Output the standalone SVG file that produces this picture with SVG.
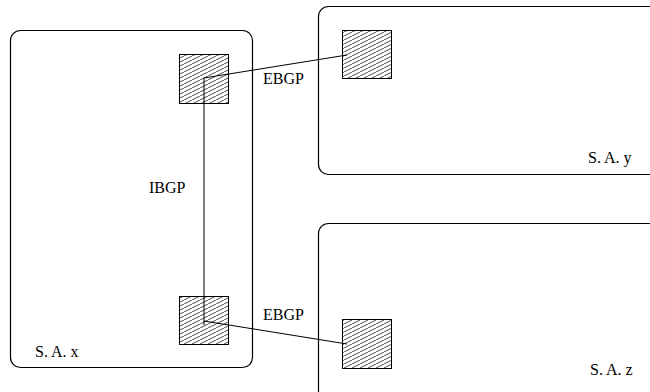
<svg xmlns="http://www.w3.org/2000/svg" width="650" height="392" viewBox="0 0 650 392">
  <style>
    .as { fill: none; stroke: #000; stroke-width: 1.2; }
    .router { fill: url(#hatch); stroke: #000; stroke-width: 1; }
    .link { fill: none; stroke: #000; stroke-width: 1; }
    .lbl { font-family: "Liberation Serif", "Times New Roman", serif; font-size: 16px; fill: #000; }
  </style>
  <defs>
    <pattern id="hatch" patternUnits="userSpaceOnUse" width="8" height="4">
      <rect width="8" height="4" fill="#fff"/>
      <line x1="-2" y1="5" x2="10" y2="-1" stroke="#000" stroke-width="0.7"/>
    </pattern>
  </defs>

  <!-- Autonomous systems -->
  <g id="as-x">
    <rect class="as" x="10.5" y="30.5" width="242" height="337" rx="10"/>
    <text class="lbl" x="35" y="357">S. A. x</text>
  </g>
  <g id="as-y">
    <rect class="as" x="318.5" y="6.5" width="345" height="168" rx="10"/>
    <text class="lbl" x="588" y="163">S. A. y</text>
  </g>
  <g id="as-z">
    <rect class="as" x="318.5" y="223.5" width="345" height="185" rx="10"/>
    <text class="lbl" x="590" y="375">S. A. z</text>
  </g>

  <!-- Sessions between border routers -->
  <g id="connectors">
    <line class="link" x1="204" y1="78" x2="204" y2="325"/>
    <line class="link" x1="204" y1="78" x2="347" y2="55"/>
    <line class="link" x1="204" y1="321" x2="347" y2="344"/>
    <text class="lbl" x="263" y="84">EBGP</text>
    <text class="lbl" x="149" y="193">IBGP</text>
    <text class="lbl" x="263" y="320">EBGP</text>
  </g>

  <!-- Border routers -->
  <g id="router-x1"><rect class="router" x="179.5" y="54.5" width="49" height="49"/></g>
  <g id="router-y"><rect class="router" x="342.5" y="30.5" width="49" height="48"/></g>
  <g id="router-x2"><rect class="router" x="179.5" y="296.5" width="49" height="48"/></g>
  <g id="router-z"><rect class="router" x="342.5" y="319.5" width="49" height="49"/></g>

  <!-- links drawn over the routers -->
  <g id="connectors-top">
    <line class="link" x1="204" y1="78" x2="204" y2="103"/>
    <line class="link" x1="204" y1="296" x2="204" y2="325"/>
    <line class="link" x1="204" y1="78" x2="228" y2="74.1"/>
    <line class="link" x1="342" y1="55.8" x2="347" y2="55"/>
    <line class="link" x1="204" y1="321" x2="228" y2="324.9"/>
    <line class="link" x1="342" y1="343.2" x2="347" y2="344"/>
  </g>
</svg>
